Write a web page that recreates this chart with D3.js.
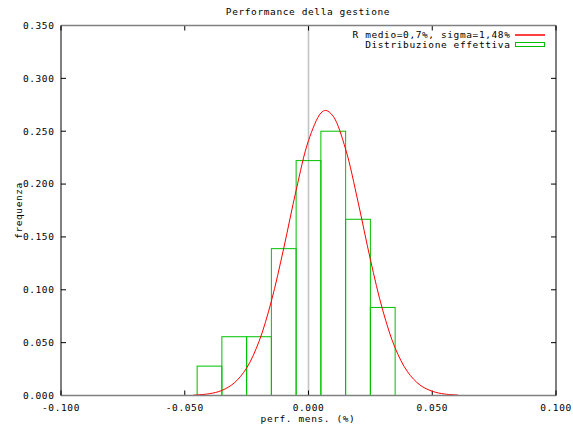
<!DOCTYPE html>
<html>
<head>
<meta charset="utf-8">
<script src="https://cdn.jsdelivr.net/npm/d3@7"></script>
<style>
  html, body { margin: 0; padding: 0; background: #fff; }
  svg text { font-family: "DejaVu Sans Mono", "Liberation Mono", monospace; font-size: 9.5px; letter-spacing: 0.6px; fill: #000; }
</style>
</head>
<body>
<svg id="chart" width="573" height="425"></svg>
<script>
// ---- data ----
const title = "Performance della gestione";
const xLabel = "perf. mens. (%)";
const yLabel = "frequenza";
const legendCurve = "R medio=0,7%, sigma=1,48%";
const legendHist = "Distribuzione effettiva";

const xTicks = [-0.1, -0.05, 0, 0.05, 0.1];
const yTicks = [0, 0.05, 0.1, 0.15, 0.2, 0.25, 0.3, 0.35];

// histogram (bin centres, bin width 0.01)
const binCenters = [-0.04, -0.03, -0.02, -0.01, 0.00, 0.01, 0.02, 0.03];
const binFreq    = [0.0278, 0.0556, 0.0556, 0.1389, 0.2222, 0.2500, 0.1667, 0.0833];
const binWidth = 0.01;

// normal curve
const curveX = [-0.0465, -0.045, -0.040, -0.035, -0.030, -0.025, -0.020, -0.015, -0.010, -0.005, 0.000, 0.005, 0.007, 0.010, 0.015, 0.020, 0.025, 0.030, 0.035, 0.040, 0.045, 0.050, 0.055, 0.0605];
const curveY = [0.0004, 0.0006, 0.0017, 0.0048, 0.0119, 0.0260, 0.0511, 0.0893, 0.1394, 0.1941, 0.2411, 0.2672, 0.2696, 0.2641, 0.2330, 0.1833, 0.1287, 0.0806, 0.0450, 0.0225, 0.0100, 0.0040, 0.0014, 0.0004];

// ---- layout ----
const svg = d3.select("#chart");
const L = 61, R = 556, T = 25.5, B = 395.5;
const x = d3.scaleLinear().domain([-0.1, 0.1]).range([L, R]);
const y = d3.scaleLinear().domain([0, 0.35]).range([B, T]);

// zero axis
svg.append("line")
  .attr("x1", x(0)).attr("x2", x(0)).attr("y1", T).attr("y2", B)
  .attr("stroke", "#c4c4c4").attr("stroke-width", 1.6);

// ticks (inside, mirrored)
const tickLen = 5;
svg.append("g").selectAll("line").data(yTicks).join("line")
  .attr("x1", L).attr("x2", L + tickLen)
  .attr("y1", d => y(d)).attr("y2", d => y(d))
  .attr("stroke", "#000").attr("stroke-width", 1);
svg.append("g").selectAll("line").data(yTicks).join("line")
  .attr("x1", R - tickLen).attr("x2", R)
  .attr("y1", d => y(d)).attr("y2", d => y(d))
  .attr("stroke", "#000").attr("stroke-width", 1);
svg.append("g").selectAll("line").data(xTicks).join("line")
  .attr("x1", d => x(d)).attr("x2", d => x(d))
  .attr("y1", B).attr("y2", B - tickLen)
  .attr("stroke", "#000").attr("stroke-width", 1);
svg.append("g").selectAll("line").data(xTicks).join("line")
  .attr("x1", d => x(d)).attr("x2", d => x(d))
  .attr("y1", T).attr("y2", T + tickLen)
  .attr("stroke", "#000").attr("stroke-width", 1);

// tick labels
svg.append("g").selectAll("text").data(yTicks).join("text")
  .attr("x", 54.5).attr("y", d => y(d)).attr("dy", "0.35em")
  .attr("text-anchor", "end")
  .text(d => d3.format(".3f")(d));
svg.append("g").selectAll("text").data(xTicks).join("text")
  .attr("x", d => x(d)).attr("y", 411)
  .attr("text-anchor", "middle")
  .text(d => d3.format(".3f")(d).replace("−", "-"));

// histogram boxes
svg.append("g").selectAll("rect").data(binCenters).join("rect")
  .attr("x", d => x(d - binWidth / 2))
  .attr("width", d => x(d + binWidth / 2) - x(d - binWidth / 2))
  .attr("y", (d, i) => y(binFreq[i]))
  .attr("height", (d, i) => y(0) - y(binFreq[i]))
  .attr("fill", "none").attr("stroke", "#00c000").attr("stroke-width", 1);

// normal curve
const pts = curveX.map((v, i) => [v, curveY[i]]);
svg.append("path")
  .attr("d", d3.line().x(d => x(d[0])).y(d => y(d[1])).curve(d3.curveCatmullRom)(pts))
  .attr("fill", "none").attr("stroke", "#ff0000").attr("stroke-width", 1);

// border
svg.append("line").attr("x1", L).attr("x2", R).attr("y1", T).attr("y2", T)
  .attr("stroke", "#808080").attr("stroke-width", 1.5);
svg.append("line").attr("x1", L).attr("x2", R).attr("y1", B).attr("y2", B)
  .attr("stroke", "#808080").attr("stroke-width", 1.5);
svg.append("line").attr("x1", L).attr("x2", L).attr("y1", T).attr("y2", B)
  .attr("stroke", "#000").attr("stroke-width", 1);
svg.append("line").attr("x1", R).attr("x2", R).attr("y1", T).attr("y2", B)
  .attr("stroke", "#000").attr("stroke-width", 1);

// title & axis labels
svg.append("text").attr("x", 308).attr("y", 15).attr("text-anchor", "middle").text(title);
svg.append("text").attr("x", 308).attr("y", 422).attr("text-anchor", "middle").text(xLabel);
svg.append("text").attr("transform", "translate(18.5," + ((T + B) / 2) + ") rotate(-90)")
  .attr("text-anchor", "middle").attr("dy", "0.35em").text(yLabel);

// legend
const lg = svg.append("g");
lg.append("text").attr("x", 510.5).attr("y", 34.5).attr("dy", "0.35em").attr("text-anchor", "end").text(legendCurve);
lg.append("line").attr("x1", 515).attr("x2", 545).attr("y1", 35).attr("y2", 35)
  .attr("stroke", "#ff0000").attr("stroke-width", 1.5);
lg.append("text").attr("x", 510.5).attr("y", 45).attr("dy", "0.35em").attr("text-anchor", "end").text(legendHist);
lg.append("rect").attr("x", 515.5).attr("y", 42.5).attr("width", 29).attr("height", 4)
  .attr("fill", "none").attr("stroke", "#00c000").attr("stroke-width", 1);
</script>
</body>
</html>
